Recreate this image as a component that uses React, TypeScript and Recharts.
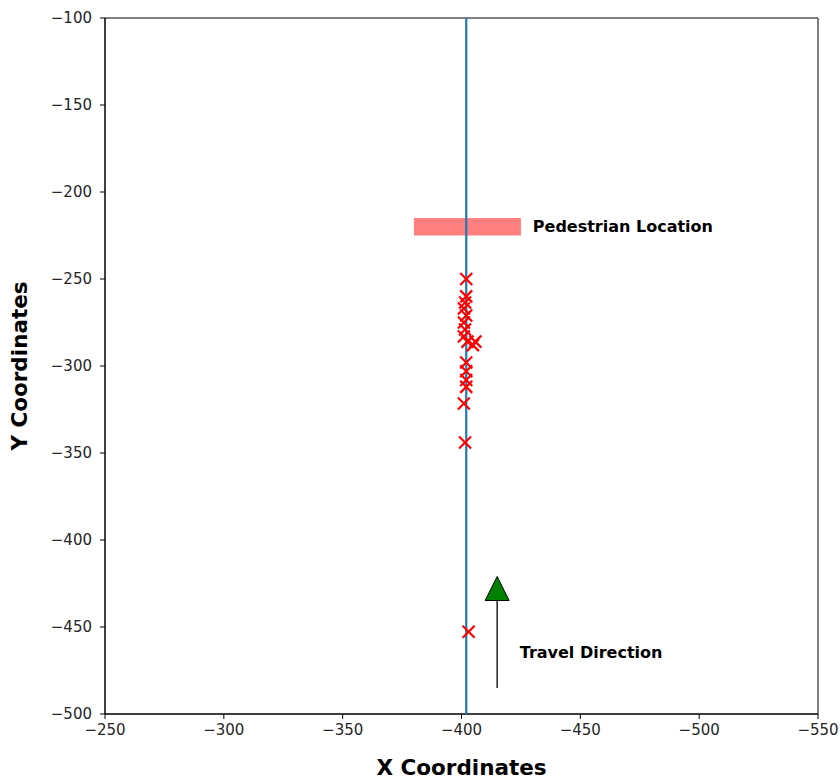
import React from 'react';
import { ScatterChart, Scatter, XAxis, YAxis, ReferenceArea } from 'recharts';

const xTicks = [-250, -300, -350, -400, -450, -500, -550];
const yTicks = [-500, -450, -400, -350, -300, -250, -200, -150, -100];

const laneLine = [
  { x: -402, y: -500 },
  { x: -402, y: -100 },
];

const detections = [
  { x: -402.0, y: -250 },
  { x: -402.0, y: -260 },
  { x: -401.5, y: -263.5 },
  { x: -401.0, y: -267 },
  { x: -402.0, y: -271 },
  { x: -401.0, y: -275 },
  { x: -401.5, y: -279 },
  { x: -401.0, y: -283 },
  { x: -402.5, y: -286 },
  { x: -404.8, y: -288 },
  { x: -405.8, y: -286 },
  { x: -402.0, y: -298 },
  { x: -402.0, y: -303 },
  { x: -402.0, y: -308 },
  { x: -402.0, y: -312 },
  { x: -401.0, y: -321.5 },
  { x: -401.5, y: -344 },
  { x: -403.0, y: -452.7 },
];

const pedestrianZone = { x1: -380, x2: -425, y1: -215, y2: -225 };

const arrowShaft = [
  { x: -415, y: -485 },
  { x: -415, y: -434 },
];
const arrowHead = [{ x: -415, y: -421 }];

const annotations = [
  { x: -430, y: -220, text: 'Pedestrian Location' },
  { x: -424.5, y: -464.5, text: 'Travel Direction' },
];

const FONT = '"DejaVu Sans", sans-serif';
const fmt = (v: number) => String(v).replace('-', '\u2212');

const XMark = (props: any) => {
  const { cx, cy } = props;
  if (cx == null || cy == null) return <g />;
  const s = 6;
  return (
    <g stroke="#ff0000" strokeWidth={2.2}>
      <line x1={cx - s} y1={cy - s} x2={cx + s} y2={cy + s} />
      <line x1={cx - s} y1={cy + s} x2={cx + s} y2={cy - s} />
    </g>
  );
};

const NoShape = () => <g />;

const TriangleHead = (props: any) => {
  const { cx, cy } = props;
  if (cx == null || cy == null) return <g />;
  return (
    <polygon
      points={`${cx},${cy} ${cx - 12},${cy + 24} ${cx + 12},${cy + 24}`}
      fill="#008000"
      stroke="#000"
      strokeWidth={1}
    />
  );
};

const AnnotationText = (props: any) => {
  const { cx, cy, payload } = props;
  if (cx == null || cy == null) return <g />;
  return (
    <text
      x={cx}
      y={cy}
      dominantBaseline="central"
      fontFamily={FONT}
      fontWeight="bold"
      fontSize={16}
      fill="#000"
    >
      {payload.text}
    </text>
  );
};

const XLabel = (props: any) => {
  const vb = props.viewBox || {};
  return (
    <text
      x={vb.x + vb.width / 2}
      y={vb.y + 53}
      textAnchor="middle"
      dominantBaseline="central"
      fontFamily={FONT}
      fontWeight="bold"
      fontSize={21.5}
      fill="#000"
    >
      X Coordinates
    </text>
  );
};

const YLabel = (props: any) => {
  const vb = props.viewBox || {};
  const x = vb.x + 19;
  const y = vb.y + vb.height / 2;
  return (
    <text
      x={x}
      y={y}
      transform={`rotate(-90 ${x} ${y})`}
      textAnchor="middle"
      dominantBaseline="central"
      fontFamily={FONT}
      fontWeight="bold"
      fontSize={21.5}
      fill="#000"
    >
      Y Coordinates
    </text>
  );
};

export default function App() {
  const tickStyle = { fontFamily: FONT, fontSize: 15, fill: '#262626' };
  return (
    <div style={{ position: 'absolute', left: 0, top: 0, background: '#fff' }}>
      <ScatterChart
        width={840}
        height={779}
        margin={{ top: 18, right: 22, bottom: 0, left: 0 }}
      >
        <XAxis
          type="number"
          dataKey="x"
          domain={[-550, -250]}
          reversed
          ticks={xTicks}
          tickFormatter={fmt}
          allowDataOverflow
          height={65}
          tick={tickStyle}
          tickSize={5}
          tickMargin={5}
          axisLine={{ stroke: '#000', strokeWidth: 1 }}
          tickLine={{ stroke: '#000', strokeWidth: 1 }}
          label={<XLabel />}
        />
        <YAxis
          type="number"
          dataKey="y"
          domain={[-500, -100]}
          ticks={yTicks}
          tickFormatter={fmt}
          allowDataOverflow
          width={105}
          tick={tickStyle}
          tickSize={5}
          tickMargin={8}
          axisLine={{ stroke: '#000', strokeWidth: 1 }}
          tickLine={{ stroke: '#000', strokeWidth: 1 }}
          label={<YLabel />}
        />
        <ReferenceArea
          x1={pedestrianZone.x1}
          x2={pedestrianZone.x2}
          y1={pedestrianZone.y1}
          y2={pedestrianZone.y2}
          fill="#ff0000"
          fillOpacity={0.5}
          stroke="none"
        />
        <Scatter
          data={laneLine}
          line={{ stroke: '#1f77b4', strokeWidth: 2.2 }}
          shape={NoShape}
          isAnimationActive={false}
        />
        <Scatter data={detections} shape={XMark} isAnimationActive={false} />
        <Scatter
          data={arrowShaft}
          line={{ stroke: '#000', strokeWidth: 1.3 }}
          shape={NoShape}
          isAnimationActive={false}
        />
        <Scatter data={arrowHead} shape={TriangleHead} isAnimationActive={false} />
        <Scatter data={annotations} shape={AnnotationText} isAnimationActive={false} />
        <ReferenceArea
          x1={-550}
          x2={-250}
          y1={-500}
          y2={-100}
          fill="none"
          stroke="#000"
          strokeWidth={1}
        />
      </ScatterChart>
    </div>
  );
}
